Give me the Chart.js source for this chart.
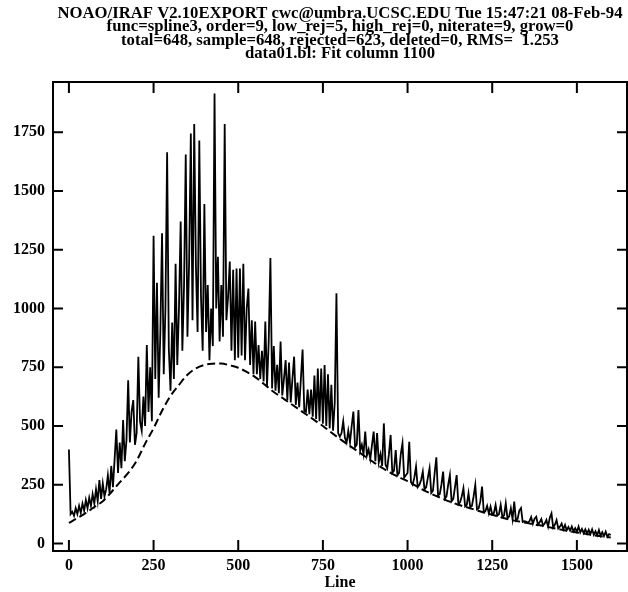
<!DOCTYPE html>
<html>
<head>
<meta charset="utf-8">
<script src="https://cdn.jsdelivr.net/npm/chart.js@4.4.1/dist/chart.umd.min.js"></script>
<style>
    body { margin: 0; background: #fff; }
    canvas { display: block; }
</style>
</head>
<body>
<canvas id="graficoFit" width="628" height="592"></canvas>
<script>
// cabeçalho do IRAF (4 linhas)
var titulo = [
    'NOAO/IRAF V2.10EXPORT cwc@umbra.UCSC.EDU Tue 15:47:21 08-Feb-94',
    'func=spline3, order=9, low_rej=5, high_rej=0, niterate=9, grow=0',
    'total=648, sample=648, rejected=623, deleted=0, RMS=  1.253',
    'data01.bl: Fit column 1100'
]

// contagens ao longo da coluna, uma a cada 5 linhas (0 ... 1600)
var linhaInicio = 0
var passoLinha = 5
var contagens = [
    400, 125, 135, 118, 150, 125, 160, 130, 170, 140, 185, 150, 195, 160, 210, 170, 230, 180, 270, 190,
    255, 200, 230, 290, 215, 330, 240, 360, 485, 300, 430, 320, 525, 350, 440, 695, 430, 560, 610, 420,
    470, 795, 520, 480, 625, 500, 845, 560, 750, 520, 1310, 700, 1110, 620, 900, 1320, 720, 1000, 1665, 830,
    650, 940, 700, 1190, 760, 1000, 1370, 820, 1100, 1655, 880, 1200, 1745, 950, 1785, 1180, 900, 1715, 1050, 820,
    1445, 900, 1100, 780, 1000, 840, 1915, 1000, 1220, 860, 1100, 880, 1785, 950, 1050, 1200, 820, 1165, 780, 1170,
    790, 1170, 800, 1190, 780, 1000, 1085, 760, 950, 720, 945, 720, 845, 700, 820, 690, 945, 670, 860, 1215,
    660, 840, 650, 760, 640, 860, 630, 700, 780, 610, 770, 600, 700, 795, 590, 685, 580, 700, 825, 565,
    560, 655, 550, 655, 540, 715, 530, 745, 520, 745, 510, 760, 500, 720, 490, 675, 480, 600, 1065, 470,
    455, 470, 520, 450, 430, 480, 430, 500, 561, 410, 420, 568, 395, 420, 380, 476, 375, 400, 360, 420,
    476, 350, 470, 345, 380, 330, 511, 335, 320, 380, 462, 300, 310, 398, 290, 300, 380, 426, 280, 290,
    300, 433, 262, 250, 280, 327, 240, 250, 270, 306, 230, 240, 280, 320, 215, 225, 300, 367, 205, 210,
    250, 306, 190, 200, 250, 291, 180, 190, 240, 291, 168, 175, 200, 235, 158, 165, 214, 155, 160, 200,
    249, 145, 150, 180, 242, 135, 138, 160, 128, 157, 124, 130, 164, 118, 125, 164, 113, 120, 171, 108,
    115, 150, 103, 178, 98, 105, 140, 151, 92, 95, 93, 89, 95, 112, 84, 105, 114, 80, 90, 104,
    77, 85, 100, 72, 110, 128, 68, 80, 100, 64, 72, 85, 60, 79, 57, 70, 55, 72, 52, 65,
    50, 72, 47, 62, 44, 60, 42, 58, 40, 60, 37, 52, 35, 57, 33, 48, 31, 50, 29, 40,
    36
]

// curva ajustada (spline3), uma a cada 25 linhas
var passoFit = 25
var ajuste = [
    88, 108, 130, 155, 180, 218, 260, 300, 352, 425, 490, 565, 628, 675, 718, 745,
    760, 765, 766, 758, 748, 730, 708, 680, 650, 625, 600, 575, 550, 525, 500, 472,
    445, 420, 395, 370, 345, 322, 300, 282, 265, 245, 225, 208, 193, 178, 165, 154,
    143, 132, 122, 112, 102, 95, 88, 81, 75, 67, 60, 53, 47, 41, 35, 30, 25
]

var ticksX = [0, 250, 500, 750, 1000, 1250, 1500]
var ticksY = [0, 250, 500, 750, 1000, 1250, 1500, 1750]

var fonteSerif = '"Liberation Serif", "Times New Roman", serif'

function montarPontos(valores, inicio, passo) {
    var pontos = []
    for (var i = 0; i < valores.length; i++) {
        pontos.push({ x: inicio + i * passo, y: valores[i] })
    }
    return pontos
}

// moldura, ticks para dentro nos quatro lados e cabeçalho
const molduraPlugin = {
    id: 'moldura',
    afterDraw(chart) {
        const ctx = chart.ctx
        const area = chart.chartArea
        const escX = chart.scales.x
        const escY = chart.scales.y
        ctx.save()
        ctx.strokeStyle = '#000'
        ctx.lineWidth = 2
        ctx.strokeRect(area.left, area.top, area.right - area.left, area.bottom - area.top)

        ctx.beginPath()
        ticksX.forEach(v => {
            const px = escX.getPixelForValue(v)
            ctx.moveTo(px, area.bottom)
            ctx.lineTo(px, area.bottom - 11)
            ctx.moveTo(px, area.top)
            ctx.lineTo(px, area.top + 11)
        })
        ticksY.forEach(v => {
            const py = escY.getPixelForValue(v)
            ctx.moveTo(area.left, py)
            ctx.lineTo(area.left + 10, py)
            ctx.moveTo(area.right, py)
            ctx.lineTo(area.right - 10, py)
        })
        ctx.stroke()

        ctx.fillStyle = '#000'
        ctx.font = 'bold 16.7px ' + fonteSerif
        ctx.textAlign = 'center'
        ctx.textBaseline = 'alphabetic'
        const centro = (area.left + area.right) / 2
        titulo.forEach((linha, i) => {
            ctx.fillText(linha, centro, 18 + i * 13.4)
        })
        ctx.restore()
    }
}

const dados = {
    datasets: [
        {
            label: 'data01.bl',
            data: montarPontos(contagens, linhaInicio, passoLinha),
            borderColor: '#000',
            borderWidth: 1.8,
            pointRadius: 0,
            tension: 0
        },
        {
            label: 'fit',
            data: montarPontos(ajuste, linhaInicio, passoFit),
            borderColor: '#000',
            borderWidth: 2,
            borderDash: [8, 4],
            pointRadius: 0,
            cubicInterpolationMode: 'monotone'
        }
    ]
}

const config = {
    type: 'line',
    data: dados,
    options: {
        responsive: false,
        animation: false,
        layout: {
            padding: { top: 82, right: 1, bottom: 0, left: 0 }
        },
        plugins: {
            legend: { display: false },
            tooltip: { enabled: false }
        },
        scales: {
            x: {
                type: 'linear',
                min: -47,
                max: 1648,
                grid: { display: false, drawTicks: false },
                border: { display: false },
                afterFit: function (escala) { escala.height = 41 },
                afterBuildTicks: function (escala) {
                    escala.ticks = ticksX.map(v => ({ value: v }))
                },
                ticks: {
                    color: '#000',
                    padding: 5,
                    maxRotation: 0,
                    callback: v => String(v),
                    font: { family: fonteSerif, weight: 'bold', size: 16 }
                },
                title: {
                    display: true,
                    text: 'Line',
                    color: '#000',
                    padding: { top: 0, bottom: 0 },
                    font: { family: fonteSerif, weight: 'bold', size: 16 }
                }
            },
            y: {
                type: 'linear',
                min: -32,
                max: 1964,
                grid: { display: false, drawTicks: false },
                border: { display: false },
                afterFit: function (escala) { escala.width = 53 },
                afterBuildTicks: function (escala) {
                    escala.ticks = ticksY.map(v => ({ value: v }))
                },
                ticks: {
                    color: '#000',
                    padding: 8,
                    callback: v => String(v),
                    font: { family: fonteSerif, weight: 'bold', size: 16 }
                }
            }
        }
    },
    plugins: [molduraPlugin]
}

const grafico = new Chart(document.getElementById('graficoFit'), config)
</script>
</body>
</html>
